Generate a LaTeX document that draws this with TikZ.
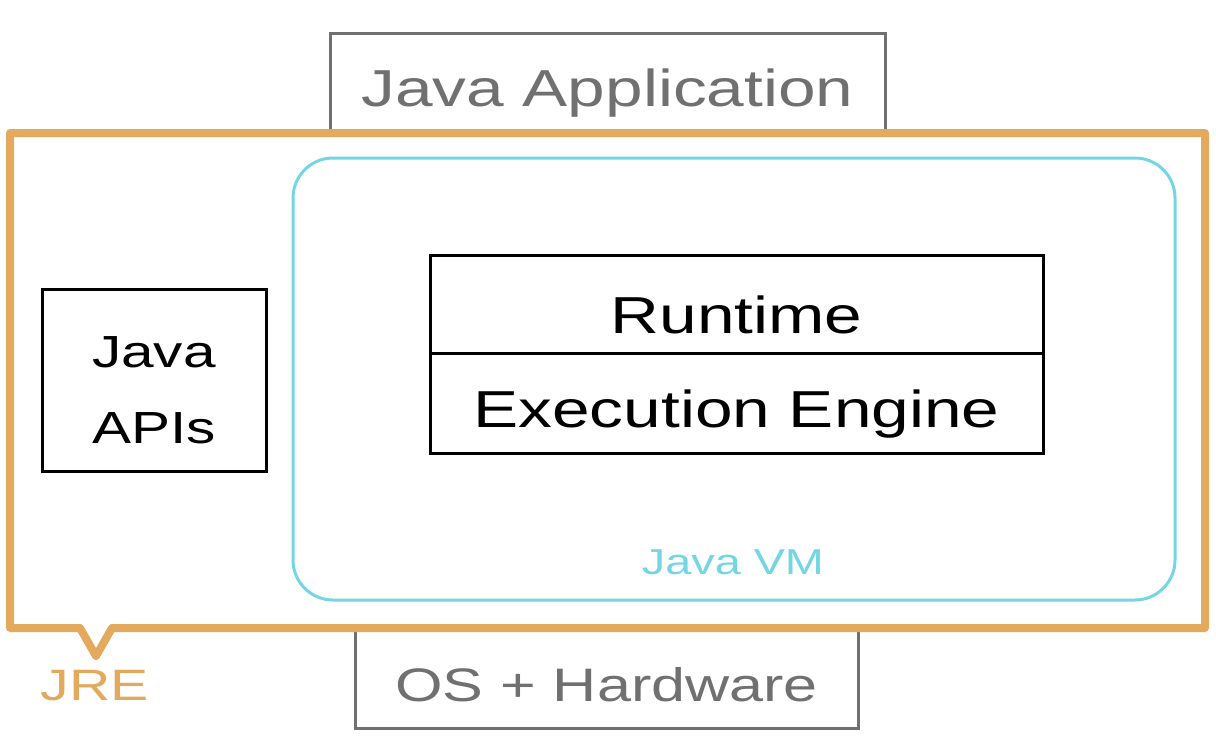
\documentclass[tikz,border=0pt]{standalone}
\usepackage{fontspec}
\newfontfamily\hand[FakeStretch=1.3]{Liberation Sans}
\definecolor{jreorange}{HTML}{E3AA5E}
\definecolor{vmcyan}{HTML}{74D6E2}
\definecolor{appgray}{HTML}{707070}
\begin{document}
\begin{tikzpicture}[x=1pt,y=-1pt,
  box/.style={draw, line width=3pt, inner sep=0pt},
  graybox/.style={box, draw=appgray, fill=white},
  blackbox/.style={box, draw=black},
  lbl/.style={font=\hand\fontsize{52}{56}\selectfont, inner sep=0pt},
]
\useasboundingbox (0,0) rectangle (1216,742);
% Java Application
\node[graybox, minimum width=555pt, minimum height=97pt] (app) at (607.5,81.5) {};
\node[lbl, text=appgray] (apptxt) at ([yshift=-12pt]app.center) {Java Application};
% OS + Hardware
\node[graybox, minimum width=503pt, minimum height=98pt] (os) at (606.5,679) {};
\node[lbl, text=appgray, font=\hand\fontsize{47}{50}\selectfont] (ostxt) at ([yshift=-6pt]os.center) {OS + Hardware};
% JRE frame with pointer
\coordinate (jtl) at (10,133);
\coordinate (jtr) at (1205,133);
\coordinate (jbr) at (1205,628);
\coordinate (pr) at (112,628);
\coordinate (ptip) at (96,656);
\coordinate (pl) at (80,628);
\coordinate (jbl) at (10,628);
\draw[jreorange, line width=8pt, line join=round] (jtl) -- (jtr) -- (jbr) -- (pr) -- (ptip) -- (pl) -- (jbl) -- cycle;
\node[lbl, text=jreorange, font=\hand\fontsize{44}{48}\selectfont] (jre) at (95,686) {JRE};
% Java VM
\draw[vmcyan, line width=3pt, rounded corners=40pt] (293,158) rectangle (1175,600);
\node[lbl, text=vmcyan, font=\hand\fontsize{36}{40}\selectfont] (vm) at (733,562) {Java VM};
% Java APIs
\node[blackbox, minimum width=224pt, minimum height=182pt] (apis) at (154,380) {};
\node[lbl, font=\hand\fontsize{45}{76}\selectfont, align=center] (apistxt) at ([yshift=-10pt]apis.center) {Java\\APIs};
% Runtime / Execution Engine
\node[blackbox, minimum width=613pt, minimum height=98pt] (rt) at (736.5,304) {};
\node[blackbox, minimum width=613pt, minimum height=100pt] (ee) at (736.5,403) {};
\node[lbl] (rttxt) at ([yshift=-11pt]rt.center) {Runtime};
\node[lbl] (eetxt) at ([yshift=-11pt]ee.center) {Execution Engine};
\end{tikzpicture}
\end{document}
